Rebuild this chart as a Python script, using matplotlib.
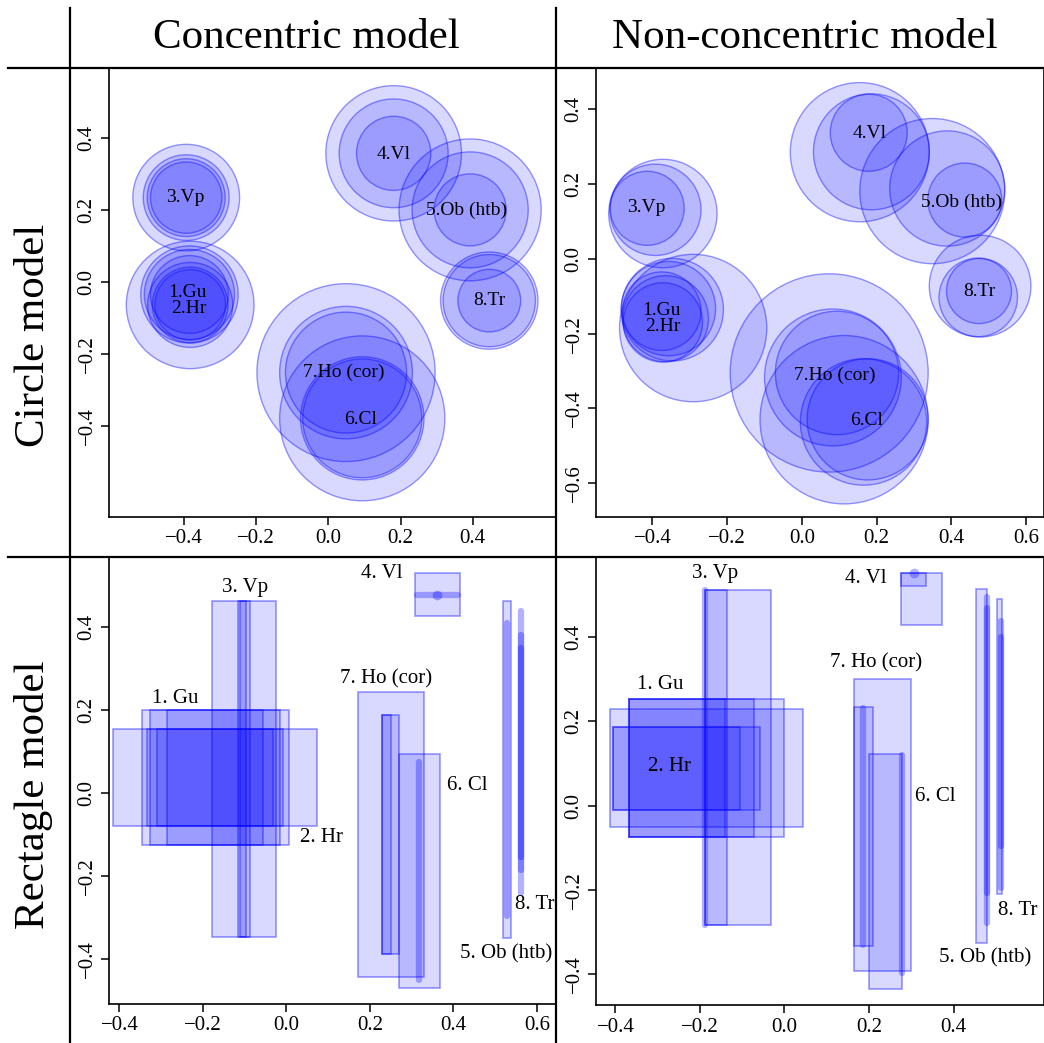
import matplotlib
matplotlib.use("Agg")
import matplotlib.pyplot as plt
from matplotlib.patches import Circle, Rectangle
from matplotlib.lines import Line2D

plt.rcParams['font.family'] = ['Liberation Serif', 'DejaVu Serif']

# group names
circ_names = ["1.Gu", "2.Hr", "3.Vp", "4.Vl", "5.Ob (htb)", "6.Cl", "7.Ho (cor)", "8.Tr"]
rect_names = ["1. Gu", "2. Hr", "3. Vp", "4. Vl", "5. Ob (htb)", "6. Cl", "7. Ho (cor)", "8. Tr"]

# concentric circle model: one centre per group, several radii
conc_x = [-0.385, -0.383, -0.394, 0.181, 0.393, 0.094, 0.049, 0.446]
conc_y = [-0.035, -0.064, 0.234, 0.357, 0.200, -0.379, -0.252, -0.052]
conc_r = [[0.135, 0.125, 0.108],
          [0.177, 0.118, 0.105, 0.098],
          [0.148, 0.119, 0.108, 0.099],
          [0.188, 0.151, 0.103],
          [0.197, 0.161, 0.100],
          [0.229, 0.171, 0.165],
          [0.247, 0.184, 0.168],
          [0.135, 0.128, 0.087]]

# non-concentric circle model: (x, y, r) per circle
ncon_circ = [[(-0.347, -0.136, 0.137), (-0.357, -0.133, 0.126), (-0.375, -0.140, 0.105)],
             [(-0.291, -0.185, 0.197), (-0.365, -0.160, 0.115), (-0.372, -0.170, 0.106)],
             [(-0.372, 0.121, 0.145), (-0.392, 0.131, 0.122), (-0.414, 0.135, 0.099)],
             [(0.155, 0.285, 0.186), (0.186, 0.286, 0.155), (0.179, 0.337, 0.103)],
             [(0.349, 0.181, 0.194), (0.389, 0.188, 0.154), (0.436, 0.157, 0.099)],
             [(0.113, -0.430, 0.225), (0.165, -0.436, 0.169), (0.176, -0.429, 0.162)],
             [(0.073, -0.305, 0.265), (0.083, -0.317, 0.183), (0.094, -0.305, 0.165)],
             [(0.477, -0.073, 0.136), (0.472, -0.103, 0.105), (0.474, -0.086, 0.087)]]

# rectangle models: (x0, x1, y0, y1); zero width/height -> segment or point
conc_rect = [[(-0.347, 0.006, -0.124, 0.200), (-0.327, -0.016, -0.124, 0.200), (-0.287, -0.056, -0.124, 0.200)],
             [(-0.416, 0.074, -0.080, 0.154), (-0.333, -0.009, -0.080, 0.154), (-0.311, -0.032, -0.080, 0.154)],
             [(-0.178, -0.024, -0.347, 0.462), (-0.116, -0.086, -0.347, 0.462), (-0.110, -0.096, -0.347, 0.462)],
             [(0.308, 0.415, 0.427, 0.530), (0.314, 0.410, 0.478, 0.478), (0.362, 0.362, 0.478, 0.478)],
             [(0.519, 0.537, -0.349, 0.462), (0.528, 0.528, -0.297, 0.410)],
             [(0.270, 0.367, -0.470, 0.094), (0.318, 0.318, -0.450, 0.076)],
             [(0.171, 0.330, -0.442, 0.243), (0.228, 0.271, -0.388, 0.189), (0.228, 0.250, -0.388, 0.189)],
             [(0.563, 0.563, -0.241, 0.438), (0.563, 0.563, -0.185, 0.382), (0.563, 0.563, -0.153, 0.349)]]

ncon_rect = [[(-0.367, -0.002, -0.074, 0.253), (-0.367, -0.072, -0.074, 0.253), (-0.367, -0.140, -0.074, 0.253)],
             [(-0.414, 0.043, -0.051, 0.230), (-0.405, -0.058, -0.011, 0.186), (-0.405, -0.106, -0.011, 0.186)],
             [(-0.188, -0.032, -0.284, 0.512), (-0.188, -0.136, -0.284, 0.512), (-0.188, -0.188, -0.284, 0.512)],
             [(0.275, 0.372, 0.429, 0.551), (0.275, 0.334, 0.522, 0.551), (0.307, 0.307, 0.551, 0.551)],
             [(0.453, 0.480, -0.325, 0.513), (0.478, 0.478, -0.278, 0.496), (0.478, 0.478, -0.207, 0.468)],
             [(0.201, 0.277, -0.434, 0.122), (0.277, 0.277, -0.397, 0.121)],
             [(0.165, 0.299, -0.393, 0.301), (0.165, 0.210, -0.333, 0.234), (0.185, 0.185, -0.330, 0.231)],
             [(0.502, 0.514, -0.209, 0.490), (0.512, 0.512, -0.195, 0.437), (0.512, 0.512, -0.096, 0.401)]]

# label positions
lab_tl = [(-0.390, -0.029), (-0.387, -0.075), (-0.396, 0.234), (0.181, 0.353),
          (0.384, 0.200), (0.090, -0.383), (0.044, -0.252), (0.446, -0.053)]
lab_tr = [(-0.376, -0.137), (-0.373, -0.180), (-0.416, 0.136), (0.181, 0.335),
          (0.428, 0.151), (0.174, -0.431), (0.089, -0.311), (0.474, -0.088)]
lab_bl = [(-0.266, 0.229), (0.084, -0.108), (-0.098, 0.496), (0.228, 0.529),
          (0.526, -0.386), (0.434, 0.018), (0.239, 0.276), (0.594, -0.269)]
lab_br = [(-0.294, 0.287), (-0.272, 0.093), (-0.164, 0.551), (0.193, 0.538),
          (0.474, -0.361), (0.356, 0.022), (0.217, 0.338), (0.552, -0.249)]

fill = (0, 0, 1, 0.15)
edge = (0, 0, 1, 0.4)
seg = (0, 0, 1, 0.3)

W, H = 1044, 1043
fig = plt.figure(figsize=(W / 100, H / 100), dpi=100)


def px_axes(x0, y0, x1, y1):
    return fig.add_axes([x0 / W, 1 - y1 / H, (x1 - x0) / W, (y1 - y0) / H])


def style(ax, xlim, ylim, xt, yt):
    ax.set_xlim(*xlim)
    ax.set_ylim(*ylim)
    ax.set_xticks(xt)
    ax.set_yticks(yt)
    ax.set_xticklabels([f"{v:.1f}".replace("-", "\u2212") for v in xt])
    ax.set_yticklabels([f"{v:.1f}".replace("-", "\u2212") for v in yt],
                       rotation=90, va="center")
    ax.tick_params(length=6, width=1.1, labelsize=15, pad=3, direction="out")
    for s in ax.spines.values():
        s.set_linewidth(1.2)


def draw_box(ax, b):
    x0, x1, y0, y1 = b
    if x0 == x1 and y0 == y1:
        ax.plot([x0], [y0], "o", ms=7, color=seg, mec="none")
    elif x0 == x1 or y0 == y1:
        ax.plot([x0, x1], [y0, y1], color=seg, lw=4.5, solid_capstyle="round")
    else:
        ax.add_patch(Rectangle((x0, y0), x1 - x0, y1 - y0, fc=fill, ec=edge, lw=1.2))


# top-left: concentric circles
ax = px_axes(109, 68, 556, 517)
for i in range(len(circ_names)):
    for r in conc_r[i]:
        ax.add_patch(Circle((conc_x[i], conc_y[i]), r, fc=fill, ec=edge, lw=1.0))
    ax.text(*lab_tl[i], circ_names[i], ha="center", va="center", fontsize=14)
style(ax, (-0.608, 0.631), (-0.653, 0.594), [-0.4, -0.2, 0.0, 0.2, 0.4], [-0.4, -0.2, 0.0, 0.2, 0.4])

# top-right: non-concentric circles
ax = px_axes(596, 68, 1044, 517)
for i in range(len(circ_names)):
    for cx, cy, r in ncon_circ[i]:
        ax.add_patch(Circle((cx, cy), r, fc=fill, ec=edge, lw=1.0))
    ax.text(*lab_tr[i], circ_names[i], ha="center", va="center", fontsize=14)
style(ax, (-0.551, 0.648), (-0.69, 0.51), [-0.4, -0.2, 0.0, 0.2, 0.4, 0.6],
      [-0.6, -0.4, -0.2, 0.0, 0.2, 0.4])

# bottom-left: concentric rectangles
ax = px_axes(109, 557, 556, 1004)
for i in range(len(rect_names)):
    for b in conc_rect[i]:
        draw_box(ax, b)
    ax.text(*lab_bl[i], rect_names[i], ha="center", va="center", fontsize=15)
style(ax, (-0.425, 0.646), (-0.508, 0.569), [-0.4, -0.2, 0.0, 0.2, 0.4, 0.6], [-0.4, -0.2, 0.0, 0.2, 0.4])

# bottom-right: non-concentric rectangles
ax = px_axes(596, 557, 1044, 1005)
for i in range(len(rect_names)):
    for b in ncon_rect[i]:
        draw_box(ax, b)
    ax.text(*lab_br[i], rect_names[i], ha="center", va="center", fontsize=15)
style(ax, (-0.446, 0.614), (-0.473, 0.59), [-0.4, -0.2, 0.0, 0.2, 0.4], [-0.4, -0.2, 0.0, 0.2, 0.4])

# frame lines and headers
for x in (70, 556):
    fig.add_artist(Line2D([x / W, x / W], [1 - 8 / H, 0], color="black", lw=1.6))
for y in (68, 557):
    fig.add_artist(Line2D([8 / W, 1], [1 - y / H, 1 - y / H], color="black", lw=1.6))

fig.text(306 / W, 1 - 38 / H, "Concentric model", ha="center", va="center", fontsize=31)
fig.text(805 / W, 1 - 38 / H, "Non-concentric model", ha="center", va="center", fontsize=31)
fig.text(34 / W, 1 - 335 / H, "Circle model", ha="center", va="center", fontsize=31, rotation=90)
fig.text(34 / W, 1 - 795 / H, "Rectagle model", ha="center", va="center", fontsize=31, rotation=90)

fig.savefig("out.png", dpi=100)
